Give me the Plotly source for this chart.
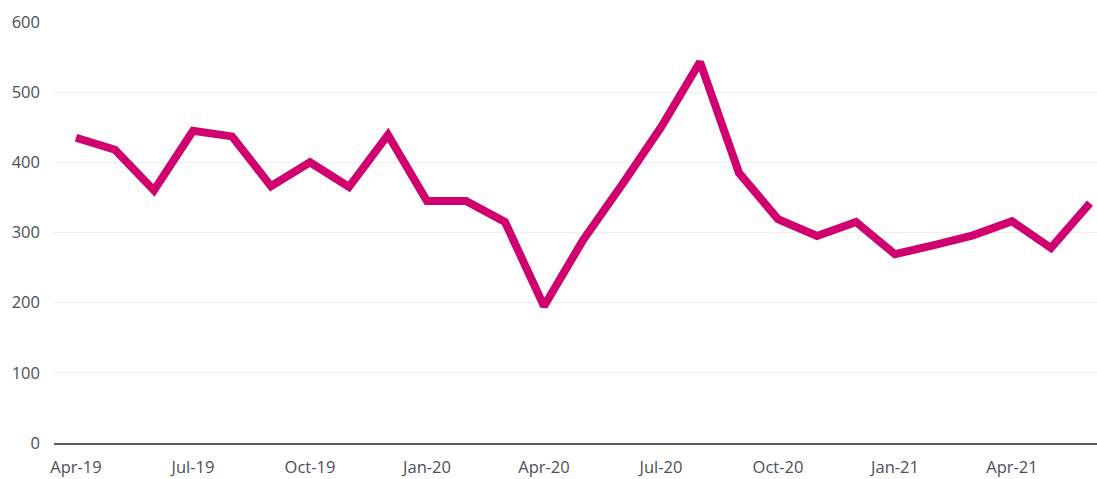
import plotly.graph_objects as go

# Monthly series, Apr-19 to Jun-21
months = [
    "Apr-19", "May-19", "Jun-19", "Jul-19", "Aug-19", "Sep-19", "Oct-19",
    "Nov-19", "Dec-19", "Jan-20", "Feb-20", "Mar-20", "Apr-20", "May-20",
    "Jun-20", "Jul-20", "Aug-20", "Sep-20", "Oct-20", "Nov-20", "Dec-20",
    "Jan-21", "Feb-21", "Mar-21", "Apr-21", "May-21", "Jun-21",
]
values = [
    435, 418, 360, 445, 437, 366, 400,
    365, 439, 345, 345, 315, 195, 289,
    368, 450, 543, 385, 319, 295, 315,
    269, 282, 296, 316, 278, 342,
]
y_ticks = [0, 100, 200, 300, 400, 500, 600]

idx = list(range(len(months)))
shown = idx[::3]

fig = go.Figure(
    go.Scatter(
        x=idx,
        y=values,
        mode="lines",
        line=dict(color="#d0006f", width=8),
        hoverinfo="skip",
    )
)

font = dict(family="Open Sans, Noto Sans, sans-serif", size=16.5, color="#4a5058")

fig.update_layout(
    width=1097,
    height=479,
    margin=dict(l=54, r=0, t=22, b=36),
    paper_bgcolor="white",
    plot_bgcolor="white",
    showlegend=False,
    font=font,
)
fig.update_xaxes(
    range=[-0.564, 26.18],
    tickvals=shown,
    ticktext=[months[i] for i in shown],
    showgrid=False,
    zeroline=False,
    showline=True,
    linecolor="#5a5a5a",
    linewidth=1.5,
    ticks="",
    ticklabelstandoff=8,
    tickfont=font,
)
fig.update_yaxes(
    range=[0, 600],
    tickvals=y_ticks,
    showgrid=True,
    gridcolor="#eeeeee",
    gridwidth=1,
    zeroline=False,
    showline=False,
    ticks="",
    ticklabelstandoff=13,
    tickfont=font,
)

fig.write_html("out.html")
